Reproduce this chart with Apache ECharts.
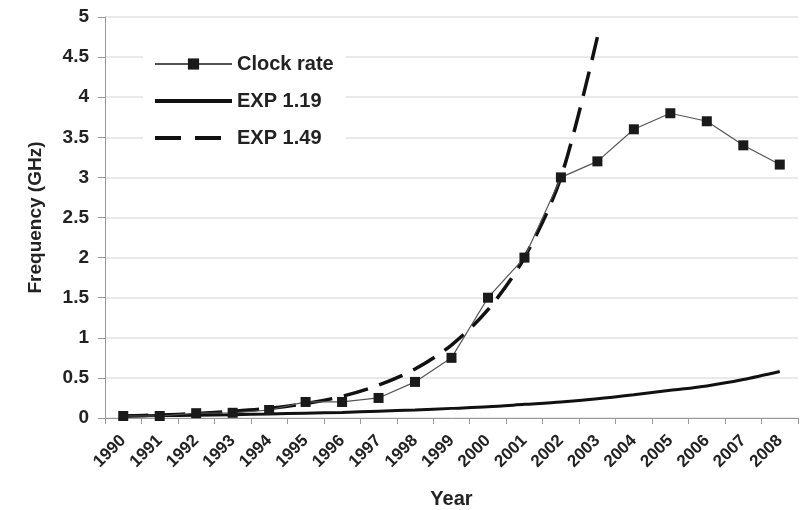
<!DOCTYPE html>
<html>
<head>
<meta charset="utf-8">
<script src="https://cdn.jsdelivr.net/npm/echarts@6/dist/echarts.min.js"></script>
<style>html,body{margin:0;padding:0;background:#fff;}#c{width:807px;height:510px;}</style>
</head>
<body>
<div id="c"></div>
<script>
var years = ['1990','1991','1992','1993','1994','1995','1996','1997','1998','1999','2000','2001','2002','2003','2004','2005','2006','2007','2008'];
var clockRate = [0.025, 0.025, 0.06, 0.065, 0.1, 0.2, 0.2, 0.25, 0.45, 0.75, 1.5, 2.0, 3.0, 3.2, 3.6, 3.8, 3.7, 3.4, 3.16];
var exp119 = [0.025, 0.03, 0.035, 0.042, 0.05, 0.06, 0.07, 0.085, 0.1, 0.12, 0.14, 0.17, 0.2, 0.24, 0.29, 0.345, 0.4, 0.48, 0.58];
var exp149 = [0.025, 0.037, 0.055, 0.083, 0.12, 0.18, 0.27, 0.41, 0.61, 0.91, 1.35, 2.0, 3.0, 4.75, null, null, null, null, null];
var yTicks = {min: 0, max: 5, interval: 0.5};

var FONT = 'Liberation Sans';
var chart = echarts.init(document.getElementById('c'));
chart.setOption({
  animation: false,
  backgroundColor: '#fff',
  grid: {left: 105, right: 9, top: 17, bottom: 92, containLabel: false, outerBoundsMode: 'none'},
  legend: {
    orient: 'vertical',
    left: 143,
    top: 50,
    itemWidth: 77,
    itemHeight: 14,
    itemGap: 17,
    padding: [4, 12, 4, 10],
    backgroundColor: '#fff',
    textStyle: {fontFamily: FONT, fontSize: 20, fontWeight: 'bold', color: '#222'},
    data: [
      {name: 'Clock rate'},
      {name: 'EXP 1.19', itemStyle: {opacity: 0}, lineStyle: {width: 4}},
      {name: 'EXP 1.49', itemStyle: {opacity: 0}, lineStyle: {width: 4, type: [26, 14]}}
    ]
  },
  xAxis: {
    type: 'category',
    data: years,
    boundaryGap: true,
    name: 'Year',
    nameLocation: 'middle',
    nameGap: 71,
    nameTextStyle: {fontFamily: FONT, fontSize: 20, fontWeight: 'bold', color: '#222'},
    axisLine: {lineStyle: {color: '#999', width: 1}},
    axisTick: {show: true, alignWithLabel: false, length: 6, lineStyle: {color: '#999'}},
    axisLabel: {interval: 0, rotate: 45, fontFamily: FONT, fontSize: 17, fontWeight: 'bold', color: '#222', margin: 20},
    splitLine: {show: false}
  },
  yAxis: {
    type: 'value',
    min: yTicks.min,
    max: yTicks.max,
    interval: yTicks.interval,
    name: 'Frequency (GHz)',
    nameLocation: 'middle',
    nameGap: 60,
    nameTextStyle: {fontFamily: FONT, fontSize: 19, fontWeight: 'bold', color: '#222'},
    axisLine: {show: true, lineStyle: {color: '#999', width: 1}},
    axisTick: {show: true, length: 7, lineStyle: {color: '#999'}},
    axisLabel: {fontFamily: FONT, fontSize: 19, fontWeight: 'bold', color: '#222', margin: 16},
    splitLine: {show: true, lineStyle: {color: '#e2e2e2', width: 1.5}}
  },
  series: [
    {
      name: 'EXP 1.19',
      type: 'line',
      data: exp119,
      smooth: 0.3,
      symbol: 'none',
      lineStyle: {color: '#111', width: 3},
      itemStyle: {color: '#111'},
      z: 2
    },
    {
      name: 'EXP 1.49',
      type: 'line',
      data: exp149,
      smooth: 0.3,
      symbol: 'none',
      lineStyle: {color: '#111', width: 3.5, type: [25, 12]},
      itemStyle: {color: '#111'},
      z: 3
    },
    {
      name: 'Clock rate',
      type: 'line',
      data: clockRate,
      symbol: 'rect',
      symbolSize: 10,
      lineStyle: {color: '#555', width: 1.2},
      itemStyle: {color: '#1a1a1a'},
      z: 4
    }
  ]
});
</script>
</body>
</html>
